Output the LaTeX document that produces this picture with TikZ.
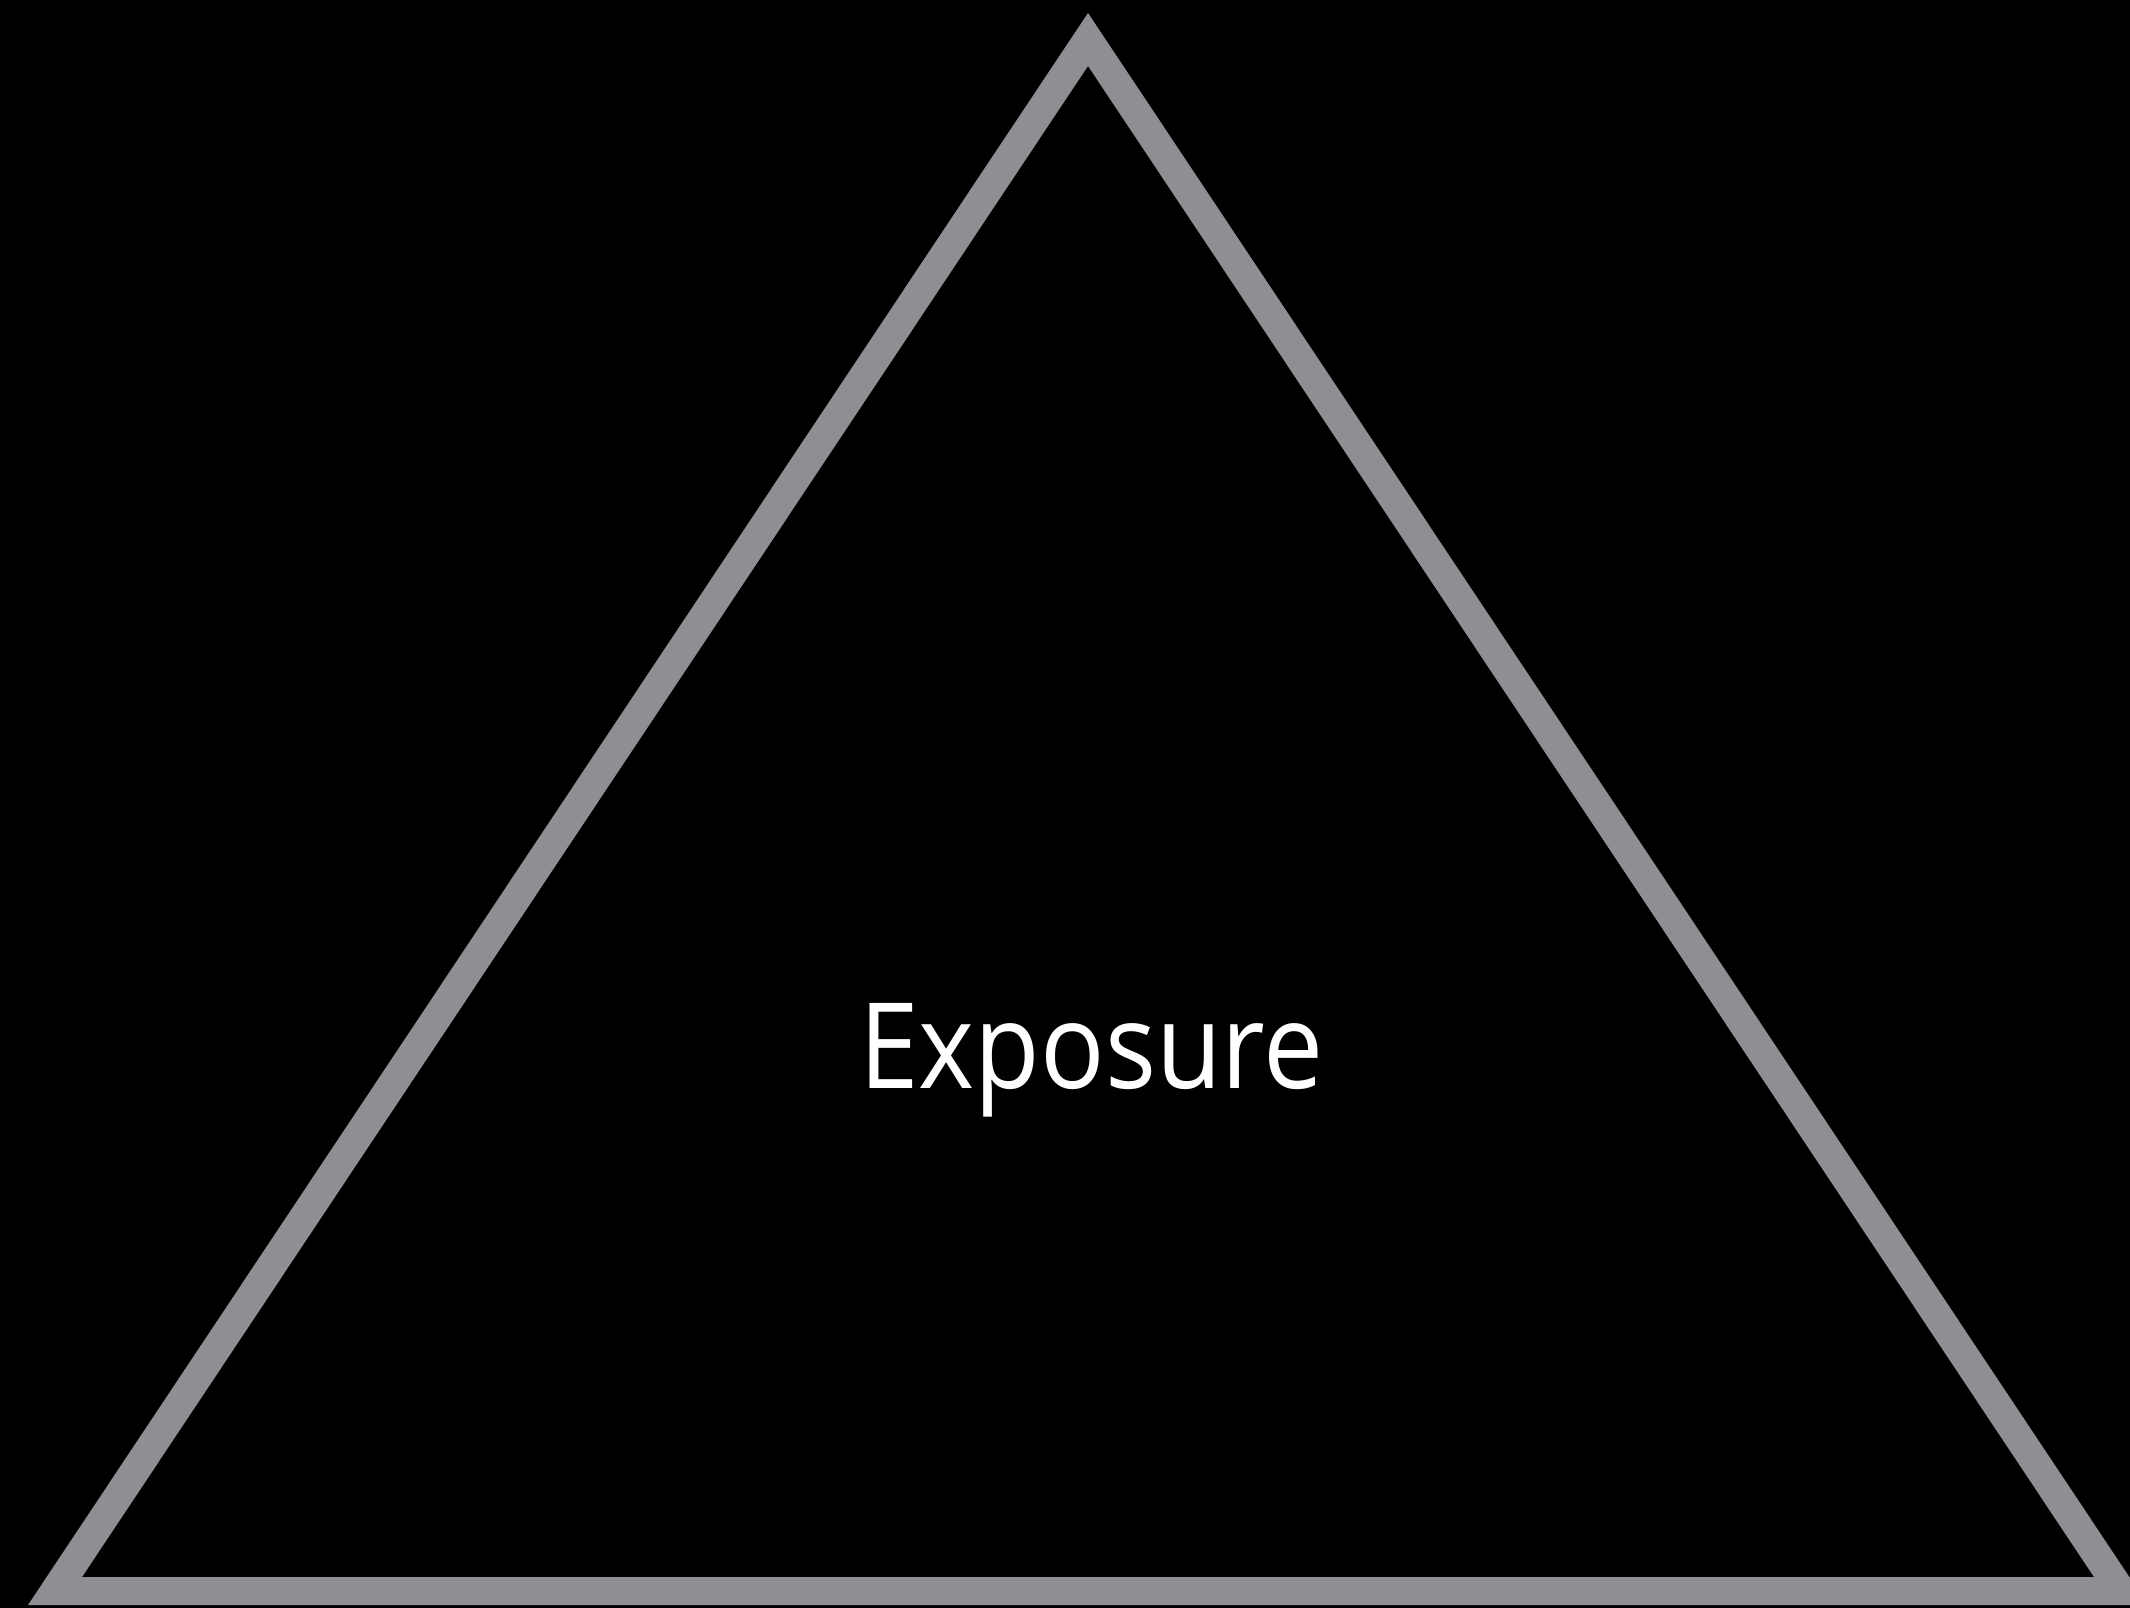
\documentclass[tikz,border=0pt]{standalone}
\usepackage{fontspec}
\setmainfont{Open Sans}
\definecolor{bandgray}{HTML}{8E8E93}
\begin{document}
\begin{tikzpicture}[x=1pt,y=-1pt,
  band/.style={fill=bandgray,even odd rule},
  label/.style={text=white,inner sep=0pt,anchor=base west}]
\useasboundingbox (0,0) rectangle (2130,1607);
\fill[black] (-10,-10) rectangle (2140,1617);
\begin{scope}
\clip (0,0) rectangle (2130,1607);
\path[band] (1088,13) -- (28,1605) -- (2148,1605) -- cycle
  (1088,66) -- (82,1577) -- (2094,1577) -- cycle;
\end{scope}
\node[label] (t) at (859,1088) {\resizebox{464pt}{85pt}{Exposure}};
\end{tikzpicture}
\end{document}
